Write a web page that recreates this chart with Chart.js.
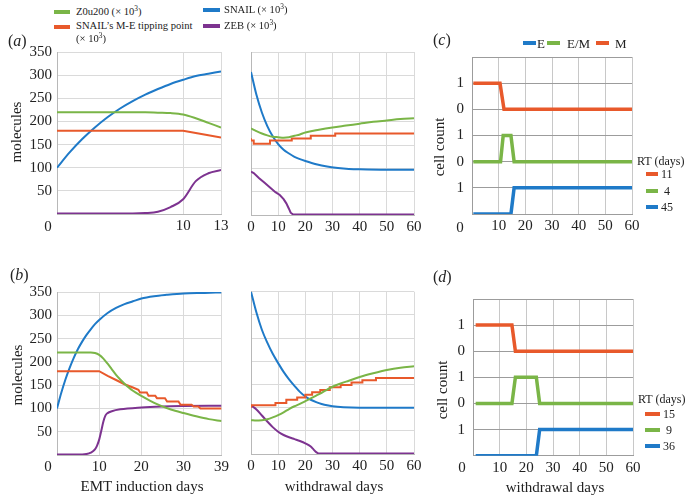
<!DOCTYPE html>
<html>
<head>
<meta charset="utf-8">
<script src="https://cdn.jsdelivr.net/npm/chart.js@4.4.1/dist/chart.umd.min.js"></script>
<style>
  body { margin: 0; background: #fff; }
  #fig { position: relative; width: 685px; height: 495px; overflow: hidden;
         font-family: "Liberation Serif", "Times New Roman", serif; color: #222; }
  canvas { position: absolute; }
  .t { position: absolute; white-space: nowrap; line-height: 1; transform: translateY(-50%); }
  .c { transform: translate(-50%, -50%); }
  .r { transform: translate(-50%, -50%) rotate(-90deg); }
  .sw { position: absolute; height: 4px; }
  .lg { font-size: 10.6px; }
  .rt { font-size: 12px; }
  .ax { font-size: 15px; }
  .pl { font-size: 16px; }
  sup { font-size: 0.7em; line-height: 0; vertical-align: 0.45em; }
</style>
</head>
<body>
<div id="fig">
  <canvas id="pa1" width="232" height="206" style="left:0;top:38px"></canvas>
  <canvas id="pa2" width="192" height="206" style="left:236px;top:38px"></canvas>
  <canvas id="pc" width="206" height="204" style="left:440px;top:40px"></canvas>
  <canvas id="pb1" width="232" height="206" style="left:0;top:278px"></canvas>
  <canvas id="pb2" width="192" height="206" style="left:236px;top:278px"></canvas>
  <canvas id="pd" width="206" height="204" style="left:440px;top:282px"></canvas>

  <!-- top legend -->
  <div class="sw" style="left:54px;top:10px;width:16px;background:#7ab547"></div>
  <div class="t lg" style="left:76px;top:12px">Z0u200 (× 10<sup>3</sup>)</div>
  <div class="sw" style="left:54px;top:25px;width:16px;background:#e8592b"></div>
  <div class="t lg" style="left:76px;top:26px">SNAIL’s M-E tipping point</div>
  <div class="t lg" style="left:76px;top:39px">(× 10<sup>3</sup>)</div>
  <div class="sw" style="left:203px;top:8px;width:17px;background:#1f7ac8"></div>
  <div class="t lg" style="left:224px;top:10px">SNAIL (× 10<sup>3</sup>)</div>
  <div class="sw" style="left:203px;top:24px;width:17px;background:#7d3390"></div>
  <div class="t lg" style="left:224px;top:26px">ZEB (× 10<sup>3</sup>)</div>

  <!-- panel letters -->
  <div class="t pl" style="left:8px;top:41px">(<i>a</i>)</div>
  <div class="t pl" style="left:10px;top:275px">(<i>b</i>)</div>
  <div class="t pl" style="left:433px;top:40px">(<i>c</i>)</div>
  <div class="t pl" style="left:433px;top:277px">(<i>d</i>)</div>

  <!-- origin zeros in the corners -->
  <div class="t ax c" style="left:48px;top:226px">0</div>
  <div class="t ax c" style="left:48px;top:466px">0</div>
  <div class="t ax c" style="left:460px;top:227px">0</div>
  <div class="t ax c" style="left:462px;top:467px">0</div>

  <!-- axis titles -->
  <div class="t ax r" style="left:16px;top:132px">molecules</div>
  <div class="t ax r" style="left:17px;top:375px">molecules</div>
  <div class="t ax r" style="left:439px;top:147px">cell count</div>
  <div class="t ax r" style="left:442px;top:390px">cell count</div>
  <div class="t ax c" style="left:142px;top:486px">EMT induction days</div>
  <div class="t ax c" style="left:334px;top:486px">withdrawal days</div>
  <div class="t ax c" style="left:555px;top:487px">withdrawal days</div>

  <!-- (c) phenotype legend -->
  <div class="sw" style="left:523px;top:41px;width:13px;background:#1f7ac8"></div>
  <div class="t" style="left:537px;top:43px;font-size:13px">E</div>
  <div class="sw" style="left:547px;top:41px;width:13px;background:#7ab547"></div>
  <div class="t" style="left:567px;top:43px;font-size:13px">E/M</div>
  <div class="sw" style="left:596px;top:41px;width:13px;background:#e8592b"></div>
  <div class="t" style="left:615px;top:43px;font-size:13px">M</div>

  <!-- RT legends -->
  <div class="t rt" style="left:637px;top:161px">RT (days)</div>
  <div class="sw" style="left:646px;top:172px;width:12px;background:#e8592b"></div>
  <div class="t rt" style="left:661px;top:174px">11</div>
  <div class="sw" style="left:646px;top:189px;width:12px;background:#7ab547"></div>
  <div class="t rt" style="left:664px;top:191px">4</div>
  <div class="sw" style="left:646px;top:205px;width:12px;background:#1f7ac8"></div>
  <div class="t rt" style="left:661px;top:207px">45</div>

  <div class="t rt" style="left:638px;top:399px">RT (days)</div>
  <div class="sw" style="left:645px;top:412px;width:15px;background:#e8592b"></div>
  <div class="t rt" style="left:663px;top:414px">15</div>
  <div class="sw" style="left:645px;top:428px;width:15px;background:#7ab547"></div>
  <div class="t rt" style="left:666px;top:430px">9</div>
  <div class="sw" style="left:645px;top:444px;width:15px;background:#1f7ac8"></div>
  <div class="t rt" style="left:663px;top:446px">36</div>
</div>

<script>
// (a) EMT induction, 13 days
const aDays = [0, 1, 2, 3, 4, 5, 6, 7, 8, 9, 10, 11, 12, 13];
const aSnail = [100, 133, 162, 187, 209, 228, 244, 258, 270, 281, 290, 298, 303, 308];
const aMir = [220, 220, 220, 220, 220, 220, 220, 220, 219, 218, 215, 207, 197, 187];
const aTip = [180, 180, 180, 180, 180, 180, 180, 180, 180, 180, 180, 175, 170, 165];
const aZeb = [1, 1, 1, 1, 1, 1, 1, 2, 5, 15, 32, 71, 88, 95];

// (a) withdrawal
const awSnailDays = [0, 2, 4, 6, 8, 10, 12, 14, 16, 18, 20, 24, 28, 32, 36, 40, 50, 60];
const awSnail = [307, 258, 220, 191, 169, 152, 140, 132, 125, 120, 116, 109, 104, 101, 99, 98, 97, 97];
const awMirDays = [0, 2, 4, 6, 8, 10, 12, 14, 16, 18, 20, 25, 30, 35, 40, 45, 50, 55, 60];
const awMir = [186, 180, 175, 171, 168, 167, 166, 167, 170, 173, 177, 183, 188, 192, 196, 200, 203, 206, 208];
const awTipDays = [0, 1, 7, 15, 22, 31, 43, 60];
const awTip = [165, 160, 153, 160, 164, 170, 175, 175];
const awZebDays = [0, 1, 3, 5, 7, 9, 10.6, 12, 13, 14, 14.6, 15.5, 60];
const awZeb = [93, 90, 79, 69, 59, 49, 43, 34, 25, 13, 5, 1, 1];

// (b) EMT induction, 39 days
const bSnailDays = [0, 1, 2, 3, 4, 5, 6, 7, 8, 9, 10, 12, 14, 16, 18, 20, 23, 26, 30, 35, 39];
const bSnail = [100, 133, 162, 187, 209, 228, 244, 258, 270, 281, 290, 305, 316, 324, 330, 336, 341, 344, 347, 348, 349];
const bMirDays = [0, 8, 9, 10, 11, 12, 13, 14, 15, 16, 17, 18, 20, 22, 24, 26, 28, 30, 33, 36, 39];
const bMir = [220, 220, 219, 215, 207, 196, 184, 172, 162, 153, 145, 138, 127, 117, 108, 101, 95, 90, 83, 77, 73];
const bTipDays = [0, 10, 12, 14, 16, 18, 19.3, 19.7, 21.3, 21.7, 23.3, 23.7, 25.6, 26.1, 28.8, 29.3, 31.9, 32.4, 33.5, 34, 39];
const bTip = [180, 180, 170, 161, 152, 145, 140, 134, 134, 127, 127, 122, 122, 115, 115, 108, 108, 104, 104, 100, 100];
const bZebDays = [0, 6, 7, 8, 9, 9.5, 10, 10.5, 11, 11.5, 12, 13, 15, 20, 25, 30, 39];
const bZeb = [1, 1, 2, 5, 12, 20, 33, 52, 72, 85, 90, 94, 98, 102, 104, 105, 106];

// (b) withdrawal
const bwSnailDays = [0, 2, 4, 6, 8, 10, 12, 14, 16, 18, 20, 22, 24, 26, 28, 30, 34, 40, 60];
const bwSnail = [350, 305, 268, 240, 216, 196, 177, 161, 147, 134, 124, 117, 112, 108, 105, 103, 101, 100, 100];
const bwMirDays = [0, 2, 4, 6, 8, 10, 12, 14, 16, 18, 20, 22, 24, 26, 28, 30, 33, 36, 40, 45, 50, 55, 60];
const bwMir = [73, 72, 73, 75, 79, 84, 90, 97, 103, 108, 114, 120, 126, 132, 139, 145, 152, 158, 166, 174, 181, 186, 189];
const bwTipDays = [0, 9, 13, 17, 20, 22.5, 25.5, 29, 33, 37, 41, 46, 53.5, 60];
const bwTip = [100, 105, 110, 117, 122, 128, 133, 138, 144, 149, 154, 159, 164, 164];
const bwZebDays = [0, 2, 4, 6, 8, 10, 12, 14, 16, 18, 20, 22, 23, 24, 25, 60];
const bwZeb = [105, 96, 83, 70, 58, 48, 41, 36, 32, 28, 23, 16, 10, 4, 1, 1];

// (c), (d) cell count per phenotype (0/1), stacked in bands
const bandOffset = { E: 0, EM: 2, M: 4 };
const bandLabels = ['', '1', '0', '1', '0', '1', ''];
const cMDays = [0.5, 10.5, 12, 60];
const cM = [1, 1, 0, 0];
const cEMDays = [0.5, 10.7, 11.7, 14.6, 15.8, 60];
const cEM = [0, 0, 1, 1, 0, 0];
const cEDays = [0.5, 14.6, 15.8, 60];
const cE = [0, 0, 1, 1];
const dMDays = [1, 14.6, 15.9, 60];
const dM = [1, 1, 0, 0];
const dEMDays = [1, 14.6, 15.9, 23.75, 25, 60];
const dEM = [0, 0, 1, 1, 0, 0];
const dEDays = [1, 23.75, 25, 60];
const dE = [0, 0, 1, 1];

const col = { mir: '#7ab547', tip: '#e8592b', snail: '#1f7ac8', zeb: '#7d3390' };

Chart.defaults.font.family = '"Liberation Serif", "Times New Roman", serif';
Chart.defaults.font.size = 15;
Chart.defaults.color = '#222';

function series(xs, ys, color, width, extra) {
  return Object.assign({
    data: xs.map((x, i) => ({ x: x, y: ys[i] })),
    borderColor: color,
    borderWidth: width,
    pointRadius: 0,
    fill: false
  }, extra || {});
}
const smooth = { cubicInterpolationMode: 'monotone' };
const steps = { stepped: 'after' };

function mkChart(id, datasets, o) {
  return new Chart(document.getElementById(id), {
    type: 'line',
    data: { datasets },
    options: {
      responsive: false,
      animation: false,
      events: [],
      layout: { padding: { top: o.padTop, right: o.padRight, left: 0, bottom: 0 } },
      plugins: { legend: { display: false }, tooltip: { enabled: false } },
      scales: {
        x: {
          type: 'linear',
          min: o.xmin,
          max: o.xmax,
          afterBuildTicks: o.xTicks ? (ax) => { ax.ticks = o.xTicks.map(v => ({ value: v })); } : undefined,
          ticks: {
            stepSize: 10, padding: 3, maxRotation: 0, autoSkip: false,
            callback: (v) => (o.corner && v === 0) ? '' : String(v)
          },
          grid: { color: o.xGrid, drawTicks: false },
          border: { color: o.frame },
          afterFit: (s) => { s.height = o.xH; }
        },
        y: {
          min: o.ymin,
          max: o.ymax,
          ticks: { stepSize: o.ystep, display: o.yLabels, padding: o.yPad, callback: o.yCb },
          grid: { color: o.yGrid, drawTicks: false },
          border: { color: o.frame },
          afterFit: (s) => { s.width = o.yW; }
        }
      }
    }
  });
}

const mol = { ymin: 0, ymax: 350, ystep: 50, xGrid: '#dadada', yGrid: '#dadada', frame: '#b8b8b8',
  yCb: (v) => v === 0 ? '' : String(v) };
const cells = { ymin: 0, ymax: 6, ystep: 1, xGrid: '#c8c8c8', yGrid: '#9c9c9c', frame: '#9c9c9c',
  yLabels: true, yPad: 8, corner: true, yCb: (v) => bandLabels[v] };

mkChart('pa1', [
  series(aDays, aMir, col.mir, 2, smooth),
  series(aDays, aTip, col.tip, 2),
  series(aDays, aSnail, col.snail, 2, smooth),
  series(aDays, aZeb, col.zeb, 2, smooth)
], Object.assign({}, mol, { xmin: 0, xmax: 13, xTicks: [0, 10, 13], yLabels: true, yPad: 5,
  corner: true, yW: 57, xH: 30, padTop: 12.7, padRight: 11 }));

mkChart('pa2', [
  series(awMirDays, awMir, col.mir, 2, smooth),
  series(awTipDays, awTip, col.tip, 2, steps),
  series(awSnailDays, awSnail, col.snail, 2, smooth),
  series(awZebDays, awZeb, col.zeb, 2)
], Object.assign({}, mol, { xmin: 0, xmax: 60, yLabels: false, yPad: 0,
  yW: 15, xH: 29, padTop: 14, padRight: 14 }));

mkChart('pc', [
  series(cMDays, cM.map(v => v + bandOffset.M), col.tip, 3.5),
  series(cEMDays, cEM.map(v => v + bandOffset.EM), col.mir, 3.5),
  series(cEDays, cE.map(v => v + bandOffset.E), col.snail, 3.5)
], Object.assign({}, cells, { xmin: 0, xmax: 60, yW: 32, xH: 30, padTop: 14, padRight: 14 }));

mkChart('pb1', [
  series(bMirDays, bMir, col.mir, 2, smooth),
  series(bTipDays, bTip, col.tip, 2),
  series(bSnailDays, bSnail, col.snail, 2, smooth),
  series(bZebDays, bZeb, col.zeb, 2, smooth)
], Object.assign({}, mol, { xmin: 0, xmax: 39, xTicks: [0, 10, 20, 30, 39], yLabels: true, yPad: 5,
  corner: true, yW: 57, xH: 29, padTop: 14, padRight: 10 }));

mkChart('pb2', [
  series(bwMirDays, bwMir, col.mir, 2, smooth),
  series(bwTipDays, bwTip, col.tip, 2, steps),
  series(bwSnailDays, bwSnail, col.snail, 2, smooth),
  series(bwZebDays, bwZeb, col.zeb, 2, smooth)
], Object.assign({}, mol, { xmin: 0, xmax: 60, yLabels: false, yPad: 0,
  yW: 15, xH: 30, padTop: 13.7, padRight: 14 }));

mkChart('pd', [
  series(dMDays, dM.map(v => v + bandOffset.M), col.tip, 3.5),
  series(dEMDays, dEM.map(v => v + bandOffset.EM), col.mir, 3.5),
  series(dEDays, dE.map(v => v + bandOffset.E), col.snail, 3.5)
], Object.assign({}, cells, { xmin: 0, xmax: 60, yW: 33, xH: 30.3, padTop: 13.7, padRight: 13 }));
</script>
</body>
</html>
